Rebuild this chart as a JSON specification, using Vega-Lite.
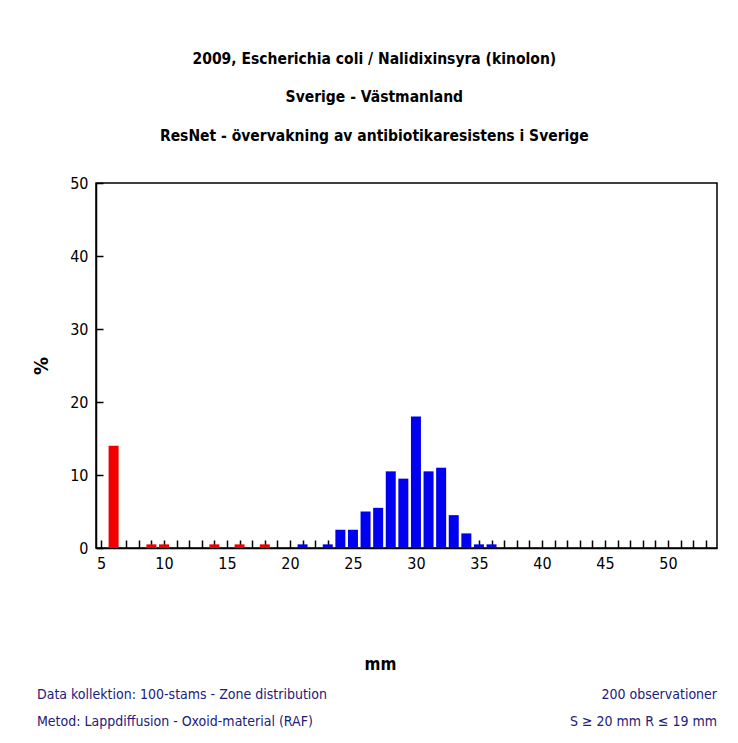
{
  "$schema": "https://vega.github.io/schema/vega-lite/v6.json",
  "background": "white",
  "padding": {"left": 30, "top": 51, "right": 10, "bottom": 5},
  "title": {
    "text": ["2009, Escherichia coli / Nalidixinsyra (kinolon)", "Sverige - Västmanland", "ResNet - övervakning av antibiotikaresistens i Sverige"],
    "font": "Liberation Sans Narrow, Arial Narrow, DejaVu Sans Condensed, sans-serif",
    "fontSize": 15.5,
    "fontWeight": "bold",
    "color": "black",
    "lineHeight": 38.5,
    "anchor": "middle",
    "offset": 30
  },
  "spacing": 14,
  "vconcat": [
    {
      "width": 621,
      "height": 365,
      "view": {"stroke": "black", "strokeWidth": 1.5},
      "data": {
        "values": [
          {"mm": 6, "pct": 14, "cat": "R"},
          {"mm": 9, "pct": 0.5, "cat": "R"},
          {"mm": 10, "pct": 0.5, "cat": "R"},
          {"mm": 14, "pct": 0.5, "cat": "R"},
          {"mm": 16, "pct": 0.5, "cat": "R"},
          {"mm": 18, "pct": 0.5, "cat": "R"},
          {"mm": 21, "pct": 0.5, "cat": "S"},
          {"mm": 23, "pct": 0.5, "cat": "S"},
          {"mm": 24, "pct": 2.5, "cat": "S"},
          {"mm": 25, "pct": 2.5, "cat": "S"},
          {"mm": 26, "pct": 5, "cat": "S"},
          {"mm": 27, "pct": 5.5, "cat": "S"},
          {"mm": 28, "pct": 10.5, "cat": "S"},
          {"mm": 29, "pct": 9.5, "cat": "S"},
          {"mm": 30, "pct": 18, "cat": "S"},
          {"mm": 31, "pct": 10.5, "cat": "S"},
          {"mm": 32, "pct": 11, "cat": "S"},
          {"mm": 33, "pct": 4.5, "cat": "S"},
          {"mm": 34, "pct": 2, "cat": "S"},
          {"mm": 35, "pct": 0.5, "cat": "S"},
          {"mm": 36, "pct": 0.5, "cat": "S"}
        ]
      },
      "mark": {"type": "bar", "width": 10},
      "encoding": {
        "x": {
          "field": "mm",
          "type": "quantitative",
          "scale": {"domain": [5, 53.5], "nice": false, "zero": false},
          "axis": {
            "values": [5,6,7,8,9,10,11,12,13,14,15,16,17,18,19,20,21,22,23,24,25,26,27,28,29,30,31,32,33,34,35,36,37,38,39,40,41,42,43,44,45,46,47,48,49,50,51,52,53],
            "labelExpr": "datum.value % 5 == 0 ? datum.label : ''",
            "grid": false,
            "tickSize": -8,
            "tickColor": "black",
            "tickWidth": 1.5,
            "domainColor": "black",
            "domainWidth": 1.5,
            "labelPadding": 15,
            "labelFont": "Liberation Sans Narrow, Arial Narrow, DejaVu Sans Condensed, sans-serif",
            "labelFontSize": 16,
            "labelColor": "black",
            "labelFlush": false,
            "labelOverlap": false,
            "title": "mm",
            "titleFont": "Liberation Sans Narrow, Arial Narrow, DejaVu Sans Condensed, sans-serif",
            "titleFontSize": 17,
            "titleFontWeight": "bold",
            "titleColor": "black",
            "titlePadding": 85,
            "titleX": 284
          }
        },
        "y": {
          "field": "pct",
          "type": "quantitative",
          "scale": {"domain": [0, 50], "nice": false},
          "axis": {
            "values": [0, 10, 20, 30, 40, 50],
            "grid": false,
            "tickSize": -7,
            "tickColor": "black",
            "tickWidth": 1.5,
            "domainColor": "black",
            "domainWidth": 1.5,
            "labelPadding": 15,
            "labelFont": "Liberation Sans Narrow, Arial Narrow, DejaVu Sans Condensed, sans-serif",
            "labelFontSize": 16,
            "labelColor": "black",
            "labelFlush": false,
            "title": "%",
            "titleFont": "Liberation Sans Narrow, Arial Narrow, DejaVu Sans Condensed, sans-serif",
            "titleFontSize": 20,
            "titleFontWeight": "bold",
            "titleColor": "black",
            "titlePadding": 18
          }
        },
        "color": {
          "field": "cat",
          "type": "nominal",
          "scale": {"domain": ["R", "S"], "range": ["#f00000", "#0000f0"]},
          "legend": null
        }
      }
    },
    {
      "hconcat": [
        {
          "width": 310,
          "height": 1,
          "data": {"values": [{}]},
          "mark": {"type": "text", "text": ""},
          "encoding": {},
          "title": {
            "text": ["Data kollektion: 100-stams - Zone distribution", "Metod: Lappdiffusion - Oxoid-material (RAF)"],
            "anchor": "start",
            "font": "Liberation Sans Narrow, Arial Narrow, DejaVu Sans Condensed, sans-serif",
            "fontSize": 14,
            "fontWeight": "normal",
            "color": "#20207a",
            "lineHeight": 27,
            "offset": 0,
            "dx": -59
          }
        },
        {
          "width": 311,
          "height": 1,
          "data": {"values": [{}]},
          "mark": {"type": "text", "text": ""},
          "encoding": {},
          "title": {
            "text": ["200 observationer", "S ≥ 20 mm R ≤ 19 mm"],
            "anchor": "end",
            "font": "Liberation Sans Narrow, Arial Narrow, DejaVu Sans Condensed, sans-serif",
            "fontSize": 14,
            "fontWeight": "normal",
            "color": "#20207a",
            "lineHeight": 27,
            "offset": 0
          }
        }
      ],
      "spacing": 0
    }
  ],
  "config": {"view": {"stroke": null}}
}
